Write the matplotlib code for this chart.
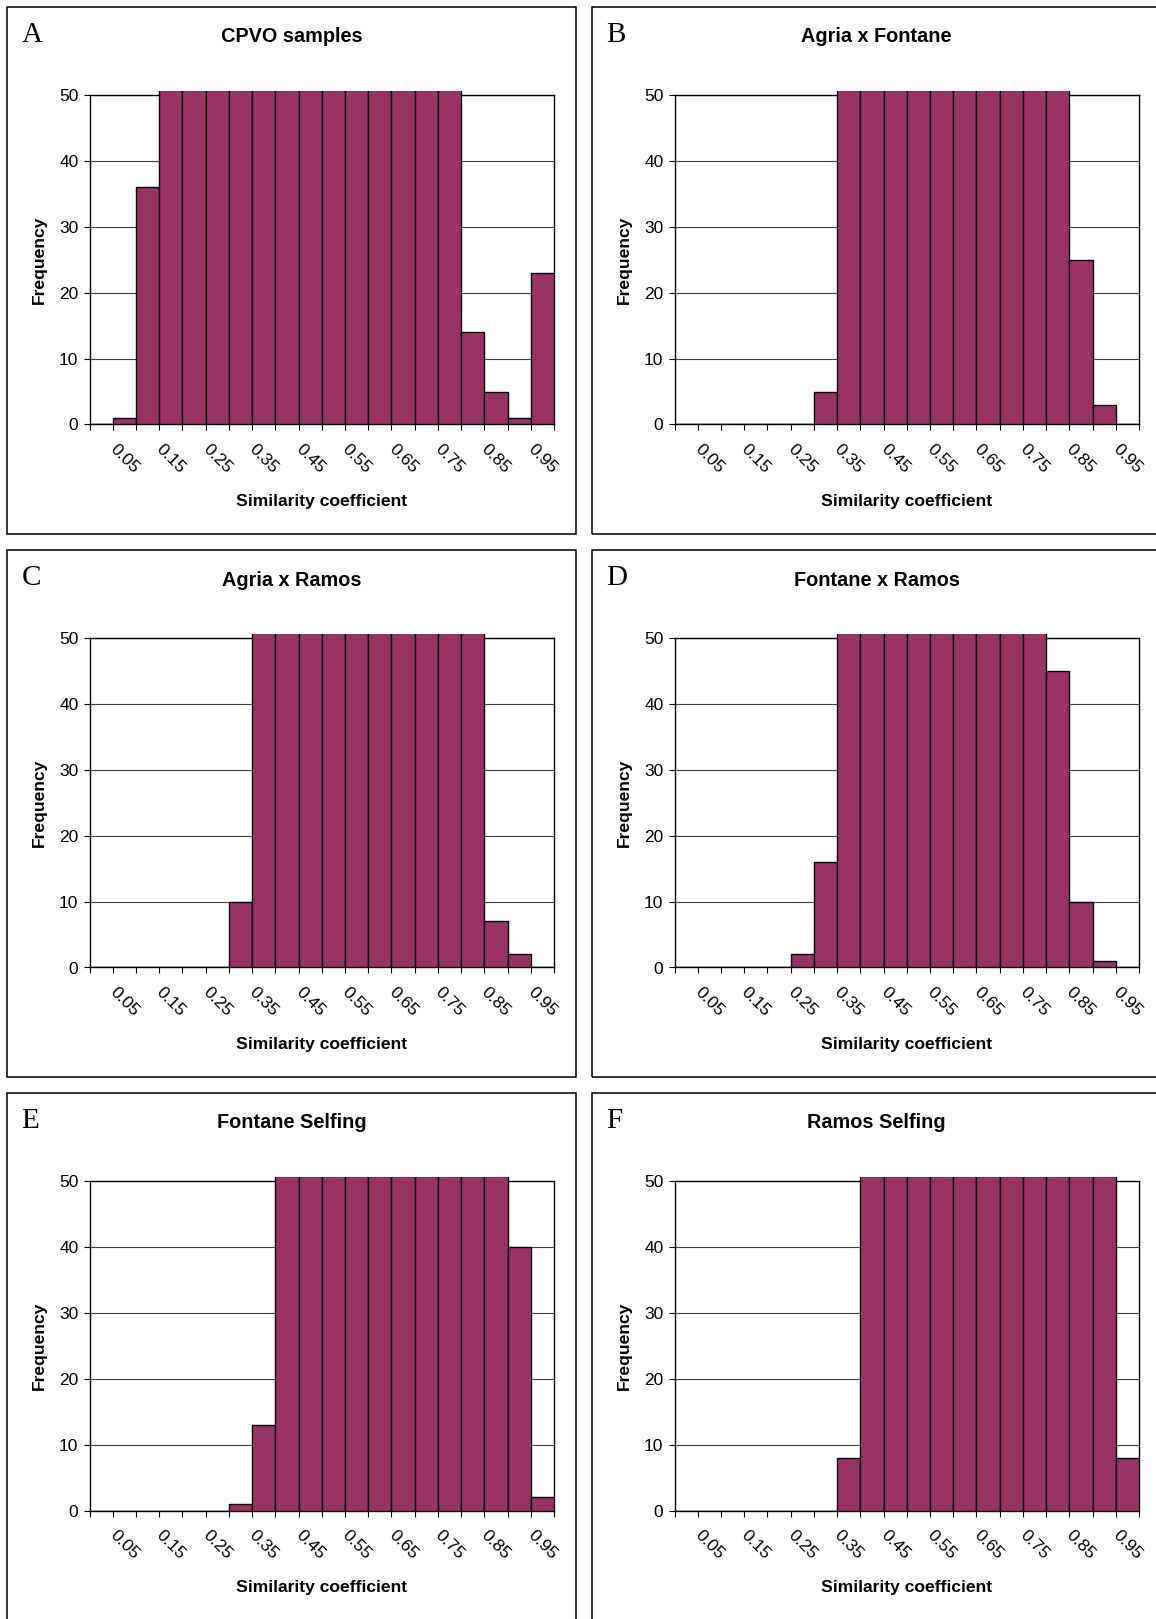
import matplotlib
matplotlib.use("Agg")
import matplotlib.pyplot as plt
from matplotlib.patches import Rectangle

# ---------------------------------------------------------------------------
# Data: frequency of pairwise similarity coefficients, 20 classes of width 0.05
# ---------------------------------------------------------------------------
categories = ["0.00", "0.05", "0.10", "0.15", "0.20", "0.25", "0.30", "0.35",
              "0.40", "0.45", "0.50", "0.55", "0.60", "0.65", "0.70", "0.75",
              "0.80", "0.85", "0.90", "0.95"]
tick_labels = ["0.05", "0.15", "0.25", "0.35", "0.45",
               "0.55", "0.65", "0.75", "0.85", "0.95"]

# classes whose counts exceed the 0-50 frequency axis are drawn cut off at the top
TOP = 60

cpvo_samples = [0, 1, 36, TOP, TOP, TOP, TOP, TOP, TOP, TOP, TOP, TOP, TOP,
                TOP, TOP, TOP, 14, 5, 1, 23]
agria_x_fontane = [0, 0, 0, 0, 0, 0, 5, TOP, TOP, TOP, TOP, TOP, TOP, TOP,
                   TOP, TOP, TOP, 25, 3, 0]
agria_x_ramos = [0, 0, 0, 0, 0, 0, 10, TOP, TOP, TOP, TOP, TOP, TOP, TOP,
                 TOP, TOP, TOP, 7, 2, 0]
fontane_x_ramos = [0, 0, 0, 0, 0, 2, 16, TOP, TOP, TOP, TOP, TOP, TOP, TOP,
                   TOP, TOP, 45, 10, 1, 0]
fontane_selfing = [0, 0, 0, 0, 0, 0, 1, 13, TOP, TOP, TOP, TOP, TOP, TOP,
                   TOP, TOP, TOP, TOP, 40, 2]
ramos_selfing = [0, 0, 0, 0, 0, 0, 0, 8, TOP, TOP, TOP, TOP, TOP, TOP,
                 TOP, TOP, TOP, TOP, TOP, 8]

panel_letters = ["A", "B", "C", "D", "E", "F"]
panel_titles = ["CPVO samples", "Agria x Fontane", "Agria x Ramos",
                "Fontane x Ramos", "Fontane Selfing", "Ramos Selfing"]
panel_values = [cpvo_samples, agria_x_fontane, agria_x_ramos,
                fontane_x_ramos, fontane_selfing, ramos_selfing]

# ---------------------------------------------------------------------------
# Layout (pixels)
# ---------------------------------------------------------------------------
W, H = 1156, 1619
COL_X = [7, 592]
ROW_Y = [7, 550, 1093]
PANEL_W, PANEL_H = 569, 527
PLOT_L, PLOT_T, PLOT_W, PLOT_H = 82.5, 88.0, 464.5, 329.5

BAR_COLOR = "#993366"
SANS = "Liberation Sans"
SERIF = "Liberation Serif"

plt.rcParams["font.family"] = SANS


def fx(x):
    return x / W


def fy(y):
    return 1 - y / H


fig = plt.figure(figsize=(W / 100, H / 100), dpi=100)
fig.patch.set_facecolor("white")

for i, (letter, title, values) in enumerate(zip(panel_letters, panel_titles,
                                                 panel_values)):
    px0 = COL_X[i % 2]
    py0 = ROW_Y[i // 2]

    # chart frame
    fig.add_artist(Rectangle((fx(px0), fy(py0 + PANEL_H)), PANEL_W / W,
                             PANEL_H / H, transform=fig.transFigure,
                             fill=False, edgecolor="black", linewidth=1.1))

    ax = fig.add_axes([fx(px0 + PLOT_L), fy(py0 + PLOT_T + PLOT_H),
                       PLOT_W / W, PLOT_H / H])
    x = list(range(len(categories)))
    bars = ax.bar(x, values, width=1.0, color=BAR_COLOR, edgecolor="black",
                  linewidth=1.0, zorder=3)
    clip = Rectangle((0, 0), 1, 1.011, transform=ax.transAxes)
    for b in bars:
        b.set_clip_path(clip)

    ax.set_xlim(-0.5, len(categories) - 0.5)
    ax.set_ylim(0, 50)
    ax.set_yticks([0, 10, 20, 30, 40, 50])
    ax.set_xticks([k for k in x if k % 2 == 1])
    ax.set_xticklabels(tick_labels, rotation=-45, ha="center")
    ax.set_xticks([k - 0.5 for k in x] + [len(categories) - 0.5], minor=True)

    ax.tick_params(axis="x", which="major", length=0, pad=12,
                   labelsize=12.5, colors="black")
    ax.tick_params(axis="x", which="minor", length=4, width=0.8,
                   direction="out", color="black")
    ax.tick_params(axis="y", which="major", length=4, width=0.8, pad=4,
                   labelsize=12.5, colors="black")

    ax.yaxis.grid(True, color="#404040", linewidth=0.8)
    ax.set_axisbelow(True)
    for s in ax.spines.values():
        s.set_color("black")
        s.set_linewidth(1.0)

    # titles and labels
    fig.text(fx(px0 + 284.5), fy(py0 + 30), title, ha="center", va="center",
             fontsize=14.3, fontweight="bold", family=SANS)
    fig.text(fx(px0 + 14.5), fy(py0 + 27.5), letter, ha="left", va="center",
             fontsize=21, family=SERIF)
    fig.text(fx(px0 + 32), fy(py0 + PLOT_T + PLOT_H / 2), "Frequency",
             rotation=90, ha="center", va="center", fontsize=12.6,
             fontweight="bold", family=SANS)
    fig.text(fx(px0 + PLOT_L + PLOT_W / 2), fy(py0 + 494.5),
             "Similarity coefficient", ha="center", va="center", fontsize=12.6,
             fontweight="bold", family=SANS)

fig.savefig("out.png", dpi=100, facecolor="white")
